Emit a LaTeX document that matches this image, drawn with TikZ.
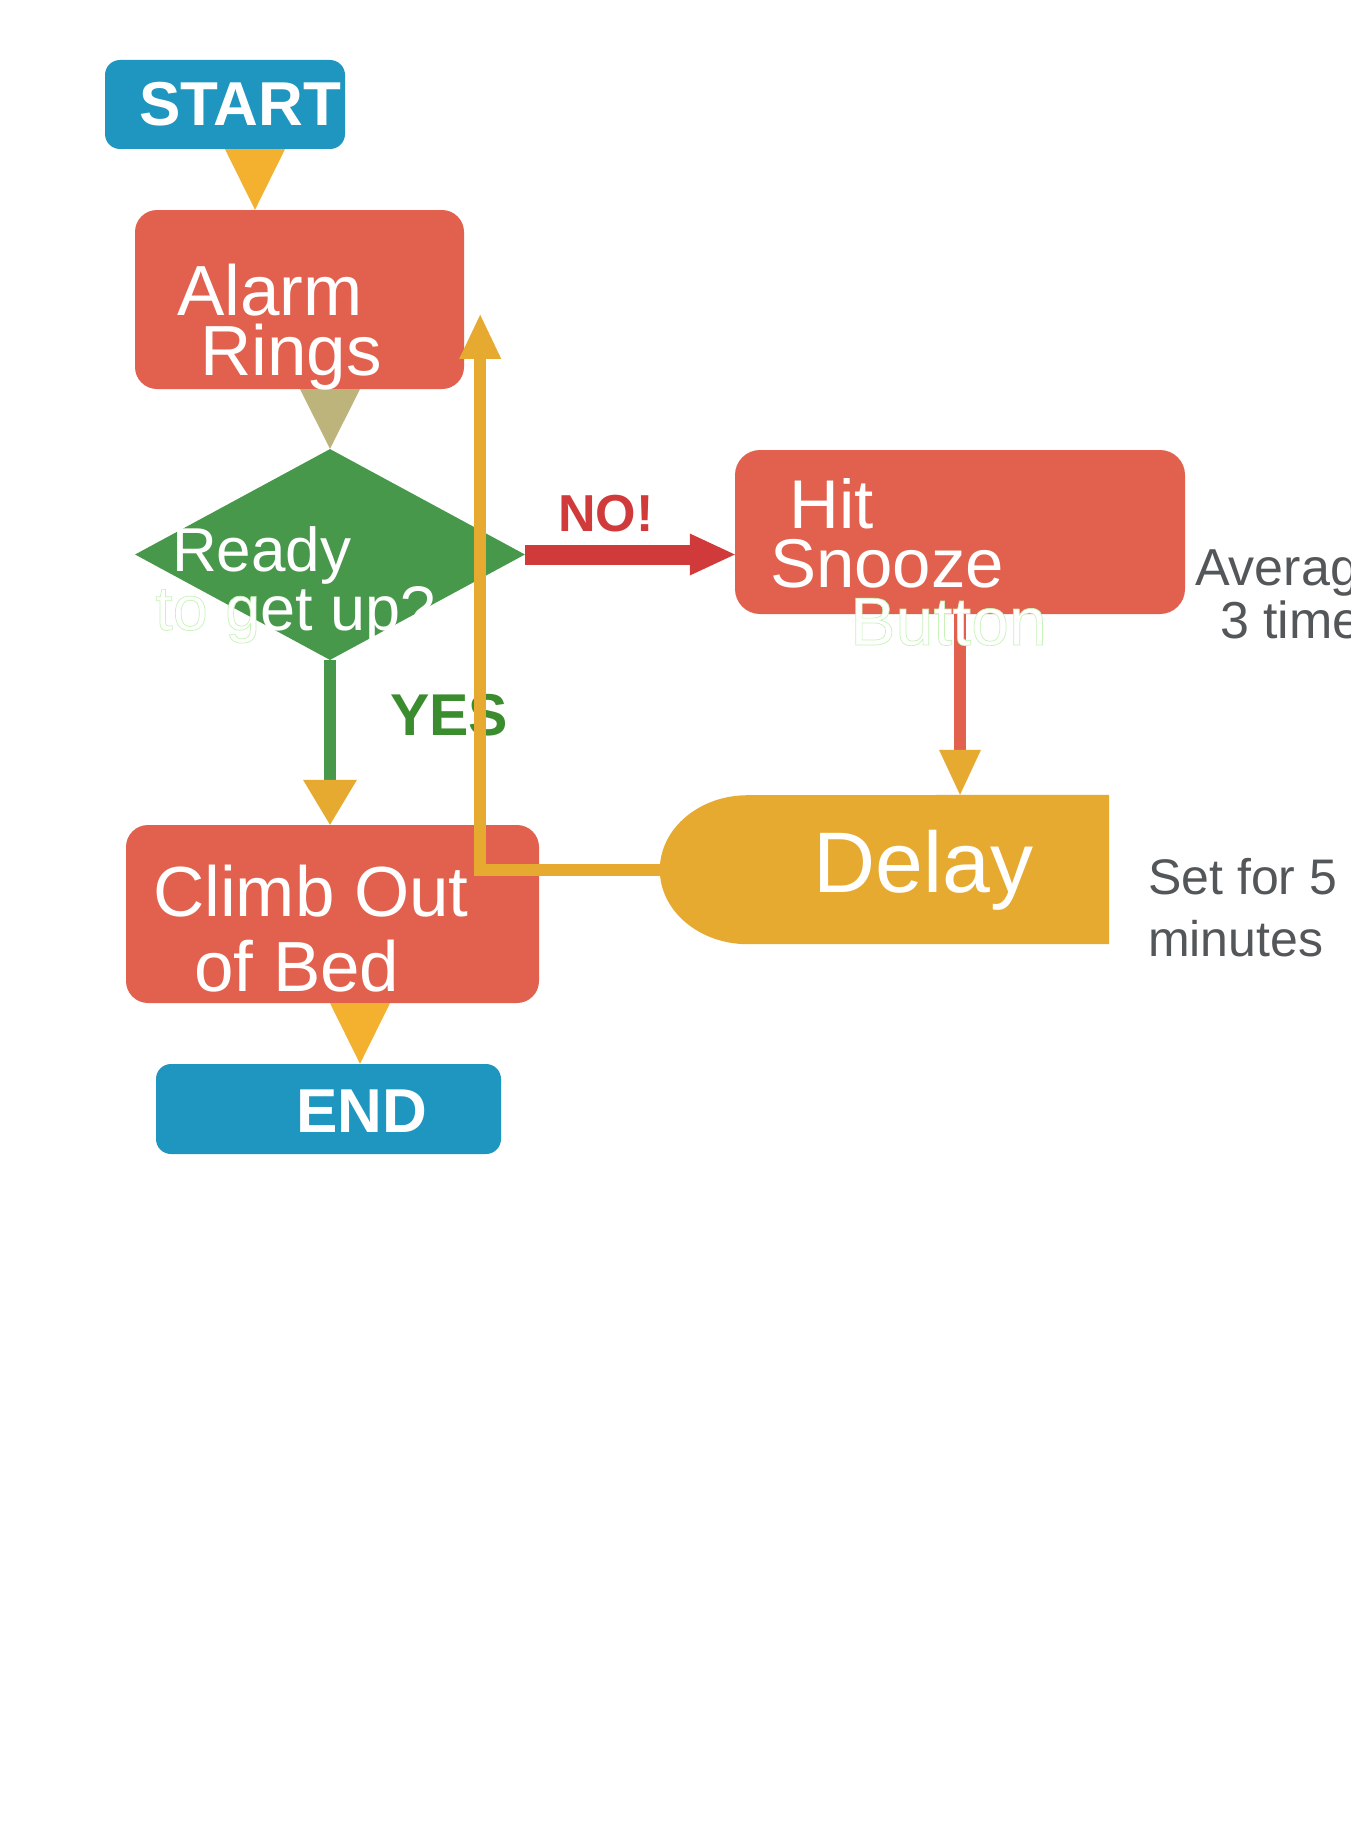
\documentclass[tikz,border=0pt]{standalone}
\usepackage{fontspec}
\setmainfont{Liberation Sans}
\usetikzlibrary{shapes.geometric,calc}
\definecolor{blueC}{HTML}{1F96BF}
\definecolor{redB}{HTML}{E2604E}
\definecolor{greenD}{HTML}{47984A}
\definecolor{yesG}{HTML}{3A8C2E}
\definecolor{orangeT}{HTML}{F3B12F}
\definecolor{orangeL}{HTML}{E7AA31}
\definecolor{beigeT}{HTML}{BDB47B}
\definecolor{noRed}{HTML}{D13A3A}
\definecolor{grayT}{HTML}{54575A}
\newcommand\fsz[1]{\fontsize{#1}{#1}\selectfont}
\newcommand\fringetext[1]{\special{pdf:literal direct 2 Tr 0.7 w 0.78 0.95 0.72 RG}#1\special{pdf:literal direct 0 Tr}}
\begin{document}
\begin{tikzpicture}[x=1pt,y=-1pt,
  blk/.style={rectangle, draw=none, inner sep=0pt},
  txt/.style={anchor=base west, inner sep=0pt, text=white},
  note/.style={anchor=base west, inner sep=0pt, text=grayT}]
\useasboundingbox (0,0) rectangle (1350,1830);
\clip (0,0) rectangle (1350,1830);
\fill[white] (0,0) rectangle (1350,1830);

% boxes
\node[blk, fill=blueC, minimum width=240pt, minimum height=89pt, rounded corners=15pt] (start) at (225,104.5) {};
\node[blk, fill=redB, minimum width=329pt, minimum height=179pt, rounded corners=22pt] (alarm) at (299.5,299.5) {};
\node[diamond, fill=greenD, draw=none, inner sep=0pt, minimum width=390pt, minimum height=211pt] (ready) at (330,554.5) {};
\node[blk, fill=redB, minimum width=450pt, minimum height=164pt, rounded corners=25pt] (hit) at (960,532) {};
\node[blk, minimum width=449pt, minimum height=149pt] (delay) at (884.5,869.5) {};
\fill[orangeL] (delay.north east) -- (delay.south east) -- ($(delay.south west)+(88,0)$)
  arc[start angle=270, end angle=90, x radius=88pt, y radius=74.5pt] -- cycle;
\node[blk, fill=redB, minimum width=413pt, minimum height=178pt, rounded corners=22pt] (climb) at (332.5,914) {};
\node[blk, fill=blueC, minimum width=345pt, minimum height=90pt, rounded corners=15pt] (endn) at (328.5,1109) {};

% connectors
\fill[orangeT] (start.south) -- ++(60,0) -- ($(alarm.north)+(-44.5,0)$) -- cycle;
\fill[beigeT] ($(ready.north |- alarm.south)+(-30,0)$) -- ++(60,0) -- (ready.north) -- cycle;
\draw[greenD, line width=12pt] (ready.south) -- ($(climb.north -| ready.south)+(0,-44)$);
\fill[orangeL] ($(climb.north -| ready.south)+(-27,-45)$) -- ++(54,0) -- (climb.north -| ready.south) -- cycle;
\fill[noRed] ($(ready.east)+(0,-10)$) rectangle ($(hit.west |- ready.east)+(-44,10)$);
\fill[noRed] ($(hit.west |- ready.east)+(-45,-21)$) -- ++(0,42) -- (hit.west |- ready.east) -- cycle;
\draw[redB, line width=12pt] (hit.south) -- ($(delay.north -| hit.south)+(0,-44)$);
\fill[orangeL] ($(delay.north -| hit.south)+(-21,-45)$) -- ++(42,0) -- (delay.north -| hit.south) -- cycle;
\fill[orangeT] ($(climb.south)+(-2.5,0)$) -- ++(60,0) -- ($(endn.north)+(31.5,0)$) -- cycle;

% texts
\node[txt, font=\fsz{62}\bfseries] (tstart) at (139,126) {START};
\node[txt, font=\fsz{71}] (talarm) at (177,315) {Alarm};
\node[txt, font=\fsz{71}] (trings) at (200,375) {Rings};
\node[txt, font=\fsz{62}] (tready) at (172,571) {Ready};
\node[txt, font=\fsz{63}] (tgetup) at (155,630) {\fringetext{to g}et up?};
\node[txt, font=\fsz{52}\bfseries, text=noRed] (tno) at (558,531) {NO!};
\node[txt, font=\fsz{59}\bfseries, text=yesG] (tyes) at (390,735) {YES};
\node[txt, font=\fsz{69}] (thit) at (789,528) {Hit};
\node[txt, font=\fsz{69}] (tsnooze) at (770,587) {Snooze};
\node[txt, font=\fsz{68}] (tbutton) at (850,645) {\fringetext{Button}};
\node[note, font=\fsz{52}] (tavg) at (1195,585) {Average};
\node[note, font=\fsz{52}] (ttimes) at (1220,638) {3 times};
\node[txt, font=\fsz{86}] (tdelay) at (813,892) {Delay};
\node[note, font=\fsz{50}] (tset) at (1148,894) {Set for 5};
\node[note, font=\fsz{50}] (tmin) at (1148,956) {minutes};
\node[txt, font=\fsz{71}] (tclimb) at (153,916) {Climb Out};
\node[txt, font=\fsz{71}] (tbed) at (194,991) {of Bed};
\node[txt, font=\fsz{62}\bfseries] (tend) at (296,1132) {END};

% loop back connector (drawn on top)
\coordinate (looptip) at ($(alarm.north east)+(16,105)$);
\draw[orangeL, line width=12pt] (delay.west) -| ($(looptip)+(0,43)$);
\fill[orangeL] ($(looptip)+(-21,44)$) -- ++(42,0) -- (looptip) -- cycle;
\end{tikzpicture}
\end{document}
